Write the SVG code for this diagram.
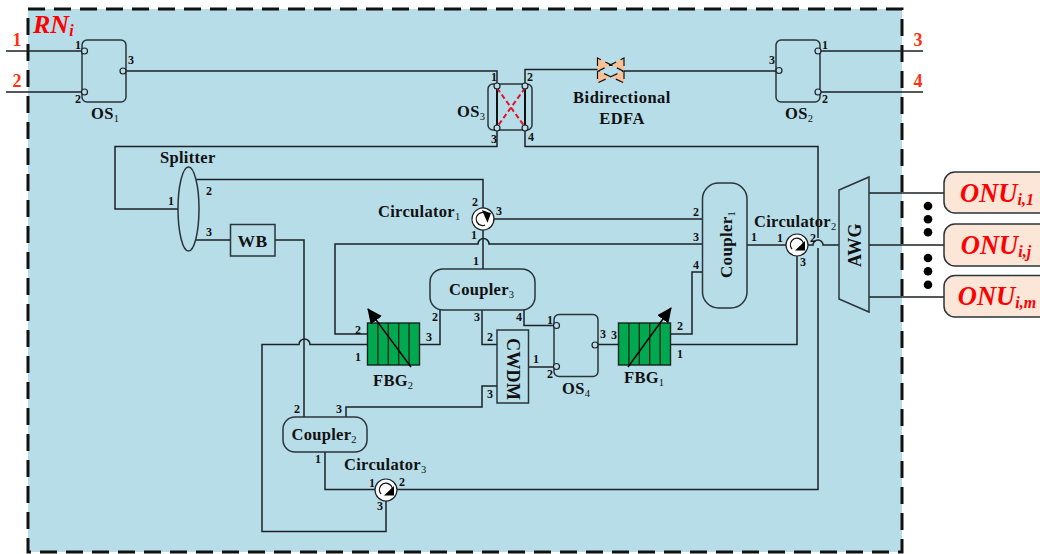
<svg xmlns="http://www.w3.org/2000/svg" width="1040" height="554" viewBox="0 0 1040 554">
<style>
text{font-family:"Liberation Serif","Times New Roman",serif;font-weight:bold;fill:#111}
.w{fill:none;stroke:#1c2226;stroke-width:1.5}
.b{fill:none;stroke:#2b3438;stroke-width:1.5}
.p{font-size:12px;text-anchor:middle}
.l{font-size:16.5px;letter-spacing:.3px}
.s{font-size:10.5px;font-weight:normal;letter-spacing:0}
.r{font-size:18px;fill:#ff3010;text-anchor:middle}
.o{font-size:26.5px;font-style:italic;fill:#f00;text-anchor:middle}
.os{font-size:16px;font-style:italic}
.c{fill:#fff;stroke:#1c2226;stroke-width:1.2}
.h{fill:#b7dde8;stroke:#1c2226;stroke-width:1.2}
.f{fill:#00a84f;stroke:#14241a;stroke-width:1.4}
.u{fill:#fbe6d8;stroke:#2b3438;stroke-width:1.5}
</style>
<defs>
<marker id="tip" markerUnits="userSpaceOnUse" markerWidth="16" markerHeight="14" refX="14" refY="7" orient="auto"><path d="M0,0 L15,7 L0,14 Z" fill="#000"/></marker>
<g id="sw"><rect x="0" y="0" width="44" height="62" rx="5" class="b"/></g>
<g id="circ"><circle r="11" class="c"/><path d="M-5,4 A6.5,6.5 0 1 1 6,2" fill="none" stroke="#111" stroke-width="1.3"/><path d="M8,-4 L8,5.500 L-2,5.500 Z" fill="#000"/></g>
<g id="grid"><rect x="0" y="0" width="52" height="42" class="f"/><path d="M10.4,0V42M20.8,0V42M31.2,0V42M41.6,0V42" fill="none" stroke="#14241a" stroke-width="1.3"/></g>
</defs>
<rect x="28" y="9" width="874" height="543" fill="#b7dde8" stroke="#111" stroke-width="3" stroke-dasharray="17 9"/>
<text x="33" y="33" style="font-size:26px;font-style:italic;fill:#f00">RN<tspan dy="3" style="font-size:16px">i</tspan></text>
<g id="connectors">
<path class="w" d="M6,51H82M6,92H82"/>
<path class="w" d="M126,71H497V84"/>
<path class="w" d="M525,84V69.500H598M624,71H777"/>
<path class="w" d="M497,130V146.500H115V209H178"/>
<path class="w" d="M525,130V146.500H818V238"/>
<path class="w" d="M818,248V489.500H397"/>
<path class="w" d="M820,51H923M820,92H923"/>
<path class="w" d="M196,179.500H483V209"/>
<path class="w" d="M494,219H702"/>
<path class="w" d="M483,230V269"/>
<path class="w" d="M702,244H489A5.500,5.500 0 0 0 478,244H335V334H367"/>
<path class="w" d="M367,344.500H310A5.500,5.500 0 0 0 299,344.500H262V531.500H386V501"/>
<path class="w" d="M420,344.500H440V310"/>
<path class="w" d="M482,310V344.500H497"/>
<path class="w" d="M524,310V325.500H555"/>
<path class="w" d="M528.500,367H555"/>
<path class="w" d="M497,386H482V407H346V417"/>
<path class="w" d="M196,240H230.500M275,240H304V417"/>
<path class="w" d="M325,452V489.500H375"/>
<path class="w" d="M598,344.500H618.500"/>
<path class="w" d="M671,334H692V272H702.500"/>
<path class="w" d="M671,344.500H797V256"/>
<path class="w" d="M747,245H786"/>
<path class="w" d="M808,245H813A5,5 0 0 1 823,245H839"/>
<path class="w" d="M869,193H944M869,245H944M869,297H944"/>
</g>
<g id="os1"><use href="#sw" x="82" y="40"/><circle cx="84.500" cy="51" r="3" class="h"/><circle cx="84.500" cy="92" r="3" class="h"/><circle cx="123" cy="71" r="3" class="h"/>
<text class="p" x="78" y="49">1</text><text class="p" x="78" y="103">2</text><text class="p" x="131" y="64">3</text>
<text class="l" x="91" y="119">OS<tspan class="s" dy="3">1</tspan></text></g>
<g id="os2"><use href="#sw" x="776" y="40"/><circle cx="818" cy="51" r="3" class="h"/><circle cx="818" cy="92" r="3" class="h"/><circle cx="779" cy="70.500" r="3" class="h"/>
<text class="p" x="825" y="49">1</text><text class="p" x="825" y="103">2</text><text class="p" x="772" y="64">3</text>
<text class="l" x="785" y="119">OS<tspan class="s" dy="3">2</tspan></text></g>
<g id="os3"><rect x="488" y="84" width="44" height="46" rx="5" class="b"/>
<path d="M497,86V128M525,86V128" fill="none" stroke="#111" stroke-width="2"/>
<path d="M497,88L525,127M525,88L497,127" fill="none" stroke="#e3102a" stroke-width="2" stroke-dasharray="5 3"/>
<circle cx="497" cy="86" r="3" class="h"/><circle cx="525" cy="86" r="3" class="h"/><circle cx="497" cy="128" r="3" class="h"/><circle cx="525" cy="128" r="3" class="h"/>
<text class="p" x="494" y="81">1</text><text class="p" x="530" y="81">2</text><text class="p" x="494" y="143">3</text><text class="p" x="531" y="141">4</text>
<text class="l" x="457" y="117">OS<tspan class="s" dy="3">3</tspan></text></g>
<g id="edfa"><path d="M597.500,58V83L623,71ZM624,58V83L598.500,71Z" fill="#f9bf96" stroke="#111" stroke-width="1.200" stroke-dasharray="8 5"/>
<text class="l" x="622" y="103" text-anchor="middle" style="font-size:16.500px;letter-spacing:.5px">Bidirectional</text><text class="l" x="622" y="124" text-anchor="middle" style="font-size:16.500px;letter-spacing:.5px">EDFA</text></g>
<g id="splitter"><ellipse cx="188.500" cy="209" rx="10.500" ry="42" class="b" fill="none"/>
<text class="l" x="160" y="163">Splitter</text>
<text class="p" x="171" y="205">1</text><text class="p" x="209" y="195">2</text><text class="p" x="209" y="236">3</text></g>
<g id="wb"><rect x="230.500" y="224.500" width="44.500" height="31.500" class="b"/><text class="l" x="252.500" y="246.500" text-anchor="middle" style="font-size:17.500px">WB</text></g>
<g id="circulator1"><use href="#circ" transform="translate(483,219) rotate(-70)"/>
<text class="l" x="378" y="217">Circulator<tspan class="s" dy="3">1</tspan></text>
<text class="p" x="475" y="206">2</text><text class="p" x="499" y="215">3</text><text class="p" x="474" y="239">1</text></g>
<g id="circulator2"><use href="#circ" transform="translate(797,245)"/>
<text class="l" x="754" y="227">Circulator<tspan class="s" dy="3">2</tspan></text>
<text class="p" x="780" y="242">1</text><text class="p" x="813" y="242">2</text><text class="p" x="803" y="266">3</text><text class="p" x="754" y="241">1</text></g>
<g id="circulator3"><use href="#circ" transform="translate(386,490)"/>
<text class="l" x="344" y="470">Circulator<tspan class="s" dy="3">3</tspan></text>
<text class="p" x="372" y="487">1</text><text class="p" x="402" y="486">2</text><text class="p" x="380" y="510">3</text></g>
<g id="coupler1"><rect x="702.500" y="183" width="44.500" height="125" rx="16" class="b"/>
<text class="l" transform="translate(731.500,278) rotate(-90)" style="font-size:17px">Coupler<tspan class="s" dy="3">1</tspan></text>
<text class="p" x="696" y="216">2</text><text class="p" x="696" y="241">3</text><text class="p" x="696" y="269">4</text></g>
<g id="coupler2"><rect x="283" y="417" width="84" height="35" rx="12" class="b"/>
<text class="l" x="291.500" y="440">Coupler<tspan class="s" dy="3">2</tspan></text>
<text class="p" x="297" y="413">2</text><text class="p" x="339" y="413">3</text><text class="p" x="318" y="463">1</text></g>
<g id="coupler3"><rect x="430" y="269" width="105" height="41" rx="13" class="b"/>
<text class="l" x="449" y="295">Coupler<tspan class="s" dy="3">3</tspan></text>
<text class="p" x="476" y="265">1</text><text class="p" x="435" y="321">2</text><text class="p" x="477" y="321">3</text><text class="p" x="519" y="321">4</text></g>
<g id="fbg2"><use href="#grid" x="367.500" y="323"/><path d="M411,367L368,309" fill="none" stroke="#000" stroke-width="1.500" marker-end="url(#tip)"/>
<text class="l" x="373" y="386">FBG<tspan class="s" dy="3">2</tspan></text>
<text class="p" x="358" y="334">2</text><text class="p" x="358" y="361">1</text><text class="p" x="429" y="341">3</text></g>
<g id="fbg1"><use href="#grid" x="618.500" y="323"/><path d="M628,367L671,308" fill="none" stroke="#000" stroke-width="1.500" marker-end="url(#tip)"/>
<text class="l" x="624" y="383">FBG<tspan class="s" dy="3">1</tspan></text>
<text class="p" x="614" y="339">3</text><text class="p" x="680" y="330">2</text><text class="p" x="680" y="358">1</text></g>
<g id="cwdm"><rect x="497" y="330" width="31.500" height="73" class="b"/>
<text class="l" transform="translate(507,338) rotate(90)" style="font-size:18px">CWDM</text>
<text class="p" x="490" y="341">2</text><text class="p" x="536" y="363">1</text><text class="p" x="490" y="398">3</text></g>
<g id="os4"><use href="#sw" x="554" y="314.500"/><circle cx="556.500" cy="325.500" r="3" class="h"/><circle cx="556.500" cy="366.500" r="3" class="h"/><circle cx="595" cy="345" r="3" class="h"/>
<text class="p" x="550" y="324">1</text><text class="p" x="550" y="378">2</text><text class="p" x="603" y="338">3</text>
<text class="l" x="562" y="394">OS<tspan class="s" dy="3">4</tspan></text></g>
<g id="awg"><path d="M839,190L869,177V312L839,299Z" class="b"/><text class="l" transform="translate(861,267) rotate(-90)" style="font-size:18px">AWG</text></g>
<g id="onu1"><rect x="944" y="172" width="110" height="41" rx="11" class="u"/><text class="o" x="997" y="202">ONU<tspan class="os" dy="3">i,1</tspan></text></g>
<g id="onu2"><rect x="944" y="224" width="110" height="42" rx="11" class="u"/><text class="o" x="996" y="254">ONU<tspan class="os" dy="3">i,j</tspan></text></g>
<g id="onu3"><rect x="944" y="275.500" width="110" height="41.500" rx="11" class="u"/><text class="o" x="997" y="305">ONU<tspan class="os" dy="3">i,m</tspan></text></g>
<g id="dots" fill="#000"><circle cx="928" cy="206" r="4.300"/><circle cx="928" cy="219.300" r="4.300"/><circle cx="928" cy="232.300" r="4.300"/><circle cx="928" cy="258" r="4.300"/><circle cx="928" cy="271.300" r="4.300"/><circle cx="928" cy="284.700" r="4.300"/></g>
<g id="ports"><text class="r" x="17" y="46">1</text><text class="r" x="17" y="87">2</text><text class="r" x="918" y="46">3</text><text class="r" x="918" y="87">4</text></g>
</svg>
